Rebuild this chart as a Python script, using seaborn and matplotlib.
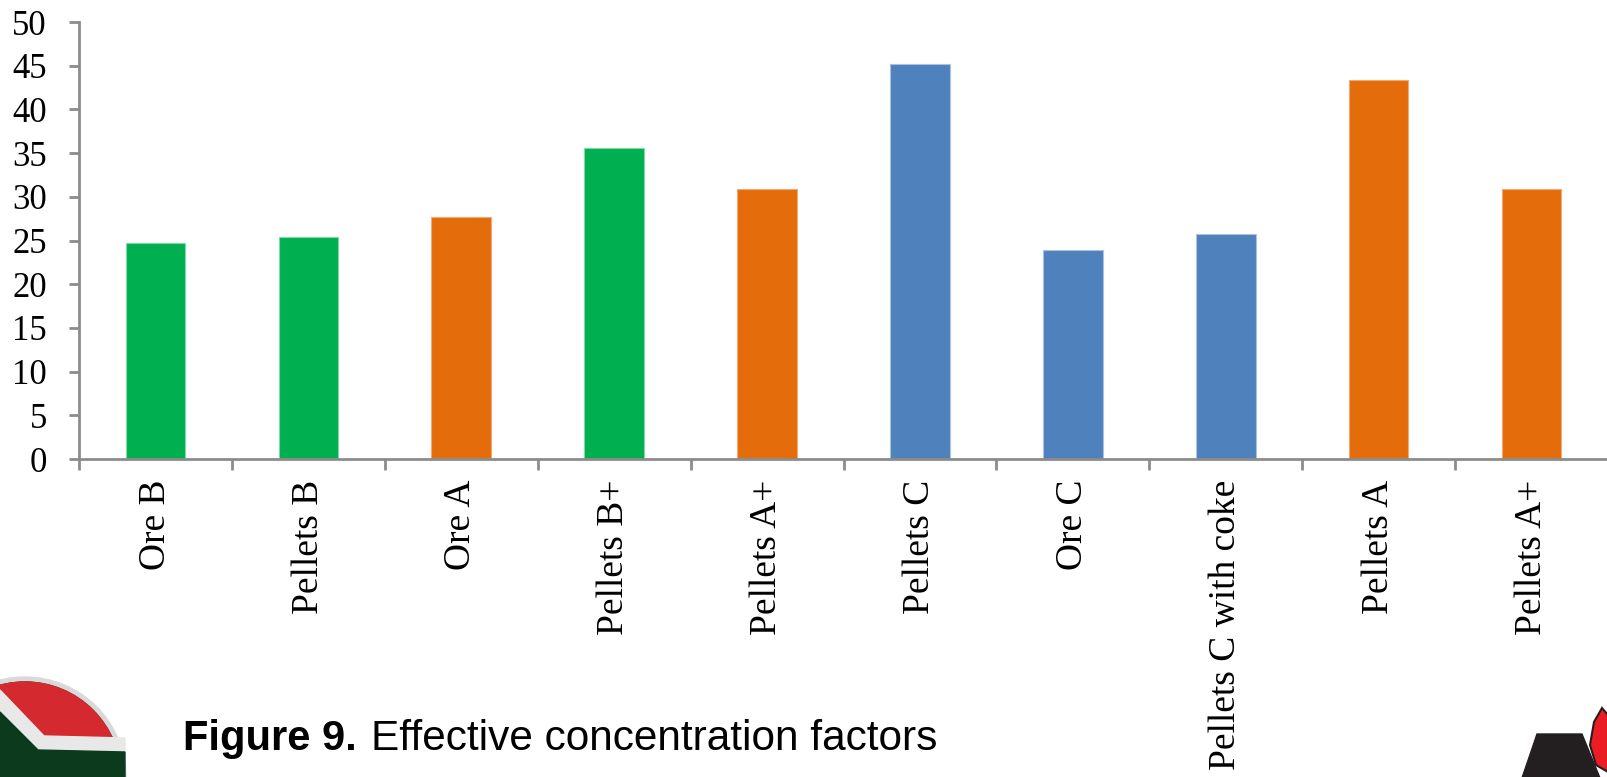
import pandas as pd
import numpy as np
import seaborn as sns
import matplotlib.pyplot as plt
from matplotlib.patches import Circle, Polygon, Wedge
from matplotlib.ticker import FixedLocator

# Chart data
labels = ['Ore B', 'Pellets B', 'Ore A', 'Pellets B+', 'Pellets A+',
          'Pellets C', 'Ore C', 'Pellets C with coke', 'Pellets A', 'Pellets A+']
values = [24.7, 25.4, 27.7, 35.6, 30.9, 45.2, 23.9, 25.8, 43.4, 30.9]
groups = ['B', 'B', 'A', 'B', 'A', 'C', 'C', 'C', 'A', 'A']
group_colors = {'A': '#E46C0A', 'B': '#00B050', 'C': '#4F81BD'}
edge_colors = {'A': '#F2A978', 'B': '#7FD9A8', 'C': '#A9C2E0'}
y_ticks = list(range(0, 51, 5))

df = pd.DataFrame({'pos': range(len(labels)), 'label': labels,
                   'value': values, 'group': groups})
palette = [group_colors[g] for g in groups]

sns.set_style('white')
plt.rcParams['font.family'] = ['Liberation Serif', 'DejaVu Serif']

fig = plt.figure(figsize=(16.08, 7.77), dpi=100)
ax = fig.add_axes([79 / 1608, 1 - 459 / 777, 1 - 79 / 1608, (459 - 22) / 777])

sns.barplot(data=df, x='pos', y='value', hue='pos', palette=palette,
            saturation=1, width=0.39, legend=False, ax=ax, linewidth=0.8)
# thin lighter edge on each bar
for patch, g in zip(ax.patches, groups):
    patch.set_edgecolor(edge_colors[g])

ax.set_xlim(-0.5, len(labels) - 0.5)
ax.set_ylim(0, 50)
ax.set_yticks(y_ticks)
ax.set_xticks(range(len(labels)))
ax.set_xticklabels(labels, rotation=90, va='top', ha='center')
ax.xaxis.set_minor_locator(FixedLocator(np.arange(-0.5, len(labels), 1.0)))
ax.set_xlabel('')
ax.set_ylabel('')

for side in ['top', 'right']:
    ax.spines[side].set_visible(False)
for side in ['left', 'bottom']:
    ax.spines[side].set_color('#8c8c8c')
    ax.spines[side].set_linewidth(2)

ax.tick_params(axis='y', which='major', length=7, width=2, color='#8c8c8c',
               labelsize=25, labelcolor='black', pad=16, left=True)
ax.tick_params(axis='x', which='major', length=0, labelsize=27,
               labelcolor='black', pad=15)
ax.tick_params(axis='x', which='minor', length=8, width=2, color='#8c8c8c',
               bottom=True)

# caption
fig.text(183 / 1608, 1 - 750 / 777, 'Figure 9.', fontsize=30, fontweight='bold',
         family=['Liberation Sans', 'DejaVu Sans'], color='black', va='baseline')
fig.text(371 / 1608, 1 - 750 / 777, 'Effective concentration factors', fontsize=30.5,
         family=['Liberation Sans', 'DejaVu Sans'], color='black', va='baseline')

# corner logos (decorative)
deco = fig.add_axes([0, 0, 1, 1], zorder=-1)
deco.set_xlim(0, 1608)
deco.set_ylim(777, 0)
deco.axis('off')
deco.add_patch(Circle((25, 778), 101, color='#d9d9d9'))
deco.add_patch(Circle((25, 778), 96, color='#0b3a1c'))
deco.add_patch(Wedge((25, 778), 96, 180, 360, color='#d42a2f'))
deco.add_patch(Polygon([[0, 690], [0, 712], [38, 750], [125, 752], [125, 738],
                        [44, 736]], closed=True, color='#e8e8e8'))
deco.add_patch(Polygon([[0, 712], [0, 778], [125, 778], [125, 752], [38, 750]],
                       closed=True, color='#0b3a1c'))
deco.add_patch(Polygon([[1537, 734], [1582, 734], [1600, 778], [1522, 778]],
                       closed=True, color='#231f20'))
deco.add_patch(Polygon([[1602, 708], [1594, 722], [1590, 745], [1596, 765],
                        [1608, 772], [1608, 715]], closed=True, color='#ec1c24',
                       ec='#231f20', lw=1.5))

fig.savefig('out.png', dpi=100)
